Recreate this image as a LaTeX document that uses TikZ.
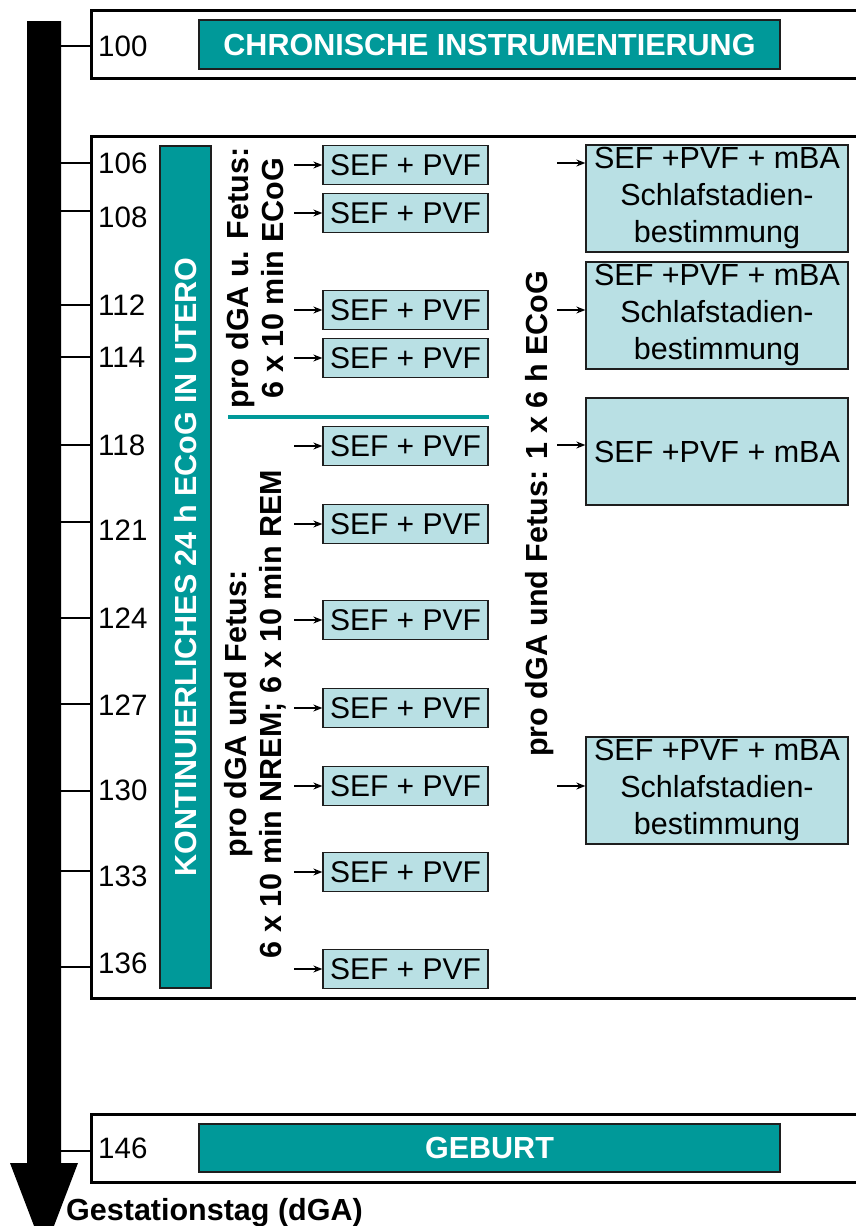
\documentclass[tikz,border=0pt]{standalone}
\usepackage{fontspec}
\setmainfont{Liberation Sans}
\usetikzlibrary{arrows.meta}
\definecolor{tealc}{RGB}{0,153,153}
\definecolor{lightc}{RGB}{185,224,228}
\definecolor{edgec}{RGB}{30,30,30}
\tikzset{
  frame/.style={draw=black, line width=3pt},
  tick/.style={draw=black, line width=1.3pt},
  num/.style={anchor=west, inner sep=0pt, font=\fontsize{29.5}{34}\selectfont},
  bandbox/.style={fill=tealc, draw=edgec, line width=1.4pt, inner sep=0pt,
    text=white, font=\fontsize{30.5}{36}\selectfont\bfseries},
  sefbox/.style={fill=lightc, draw=edgec, line width=1.3pt, inner sep=0pt,
    minimum width=165pt, minimum height=39pt, font=\fontsize{30}{36}\selectfont},
  resbox/.style={fill=lightc, draw=edgec, line width=1.3pt, inner sep=0pt,
    minimum width=262pt, minimum height=107pt, align=center,
    font=\fontsize{30.5}{37}\selectfont},
  vlabel/.style={rotate=90, inner sep=0pt, align=center,
    font=\fontsize{30.5}{35}\selectfont\bfseries},
  arr/.style={draw=black, line width=1.3pt, -{Stealth[length=9pt,width=7pt]}},
}
\begin{document}
\begin{tikzpicture}[x=1pt,y=-1pt]
\useasboundingbox (0,0) rectangle (856,1226);
\fill[white] (0,0) rectangle (856,1226);

% time axis
\fill[black] (27,21) -- (61,21) -- (61,1163) -- (78,1163) -- (44,1252)
  -- (10,1163) -- (27,1163) -- cycle;
\node[anchor=base west, inner sep=0pt, font=\fontsize{30.5}{36}\selectfont\bfseries]
  (axislabel) at (66,1220) {Gestationstag (dGA)};

% phase frames
\draw[frame] (91,10) rectangle (880,78);
\draw[frame] (91,136) rectangle (880,998);
\draw[frame] (91,1114) rectangle (880,1182);

% ticks and day numbers
\foreach \d/\ty/\ny in {100/46/46, 106/163/163, 108/211/217, 112/305/305,
    114/357/357, 118/445/445, 121/522/530, 124/618/618, 127/704/705,
    130/791/790, 133/871/876, 136/967/963, 146/1151/1148}{
  \coordinate (tl\d) at (61,\ty);
  \coordinate (tr\d) at (91,\ty);
  \draw[tick] (tl\d) -- (tr\d);
  \node[num] (n\d) at (98,\ny) {\d};
}

% phase banners
\node[bandbox, minimum width=581pt, minimum height=49pt] (chron) at (489.5,44.5)
  {CHRONISCHE INSTRUMENTIERUNG};
\node[bandbox, minimum width=581pt, minimum height=48pt] (birth) at (489.5,1148)
  {GEBURT};
\node[bandbox, rotate=90, minimum width=842pt, minimum height=51pt] (utero)
  at (185.5,567) {KONTINUIERLICHES 24 h ECoG IN UTERO};

% protocol labels
\node[vlabel] (proA) at (255,278) {pro dGA u. Fetus:\\6 x 10 min ECoG};
\node[vlabel] (proB) at (255,714) {pro dGA und Fetus:\\6 x 10 min NREM; 6 x 10 min REM};
\node[vlabel] (proC) at (540,514) {pro dGA und Fetus: 1 x 6 h ECoG};
\coordinate (sepL) at (228,417);
\coordinate (sepR) at (489,417);
\draw[tealc, line width=4pt] (sepL) -- (sepR);

% per-day analyses
\foreach \d/\y in {106/165, 108/213, 112/310, 114/358, 118/446, 121/524,
    124/620, 127/708, 130/786, 133/872, 136/969}{
  \node[sefbox] (s\d) at (405.5,\y) {SEF + PVF};
  \coordinate (a\d) at (294,\y);
  \draw[arr] (a\d) -- (s\d.west);
}

% 6 h analyses
\node[resbox] (r1) at (717,198.5) {SEF +PVF + mBA\\Schlafstadien-\\bestimmung};
\node[resbox] (r2) at (717,315.5) {SEF +PVF + mBA\\Schlafstadien-\\bestimmung};
\node[resbox] (r3) at (717,451.5) {SEF +PVF + mBA};
\node[resbox] (r4) at (717,790.5) {SEF +PVF + mBA\\Schlafstadien-\\bestimmung};
\coordinate (b1) at (557,163);
\coordinate (b2) at (557,310);
\coordinate (b3) at (557,445);
\coordinate (b4) at (557,786);
\draw[arr] (b1) -- (b1 -| r1.west);
\draw[arr] (b2) -- (b2 -| r2.west);
\draw[arr] (b3) -- (b3 -| r3.west);
\draw[arr] (b4) -- (b4 -| r4.west);
\end{tikzpicture}
\end{document}
